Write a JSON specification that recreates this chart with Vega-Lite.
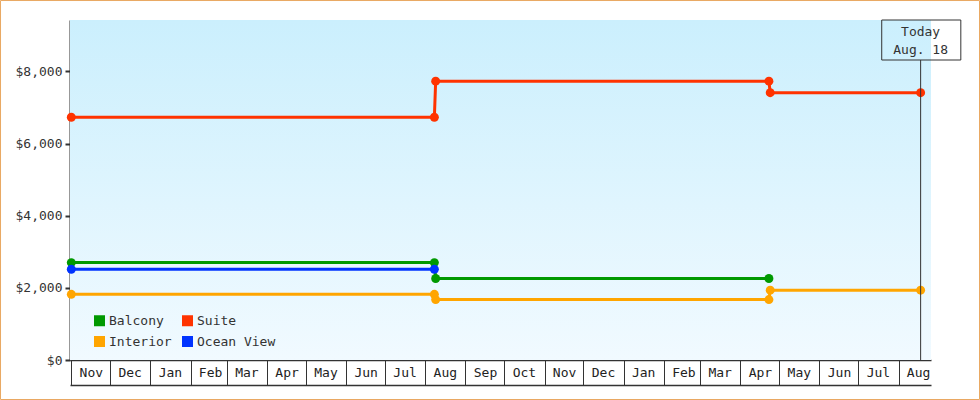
{
  "$schema": "https://vega.github.io/schema/vega-lite/v6.json",
  "width": 861,
  "height": 340,
  "autosize": {"type": "none"},
  "padding": {"left": 70, "top": 20, "right": 49, "bottom": 40},
  "background": "white",
  "datasets": {
    "prices": [
      {"series": "Suite", "date": "2012-11-01", "price": 6730},
      {"series": "Suite", "date": "2013-08-08", "price": 6730},
      {"series": "Suite", "date": "2013-08-09", "price": 7730},
      {"series": "Suite", "date": "2014-04-23", "price": 7730},
      {"series": "Suite", "date": "2014-04-24", "price": 7410},
      {"series": "Suite", "date": "2014-08-18", "price": 7410},
      {"series": "Balcony", "date": "2012-11-01", "price": 2700},
      {"series": "Balcony", "date": "2013-08-08", "price": 2700},
      {"series": "Balcony", "date": "2013-08-09", "price": 2260},
      {"series": "Balcony", "date": "2014-04-23", "price": 2260},
      {"series": "Ocean View", "date": "2012-11-01", "price": 2515},
      {"series": "Ocean View", "date": "2013-08-08", "price": 2515},
      {"series": "Interior", "date": "2012-11-01", "price": 1820},
      {"series": "Interior", "date": "2013-08-08", "price": 1820},
      {"series": "Interior", "date": "2013-08-09", "price": 1675},
      {"series": "Interior", "date": "2014-04-23", "price": 1675},
      {"series": "Interior", "date": "2014-04-24", "price": 1935},
      {"series": "Interior", "date": "2014-08-18", "price": 1935}
    ],
    "today": [{"date": "2014-08-18", "label": ["Today", "Aug. 18"]}]
  },
  "resolve": {"axis": {"x": "independent"}},
  "layer": [
    {
      "data": {"values": [{}]},
      "mark": {
        "type": "rect",
        "fill": {
          "gradient": "linear", "x1": 0, "y1": 0, "x2": 0, "y2": 1,
          "stops": [{"offset": 0, "color": "#cbeffd"}, {"offset": 1, "color": "#f1faff"}]
        }
      },
      "encoding": {
        "x": {
          "datum": {"year": 2012, "month": 10, "date": 31, "utc": true}, "type": "temporal",
          "scale": {"type": "utc", "domain": [{"year": 2012, "month": 10, "date": 31, "utc": true}, {"year": 2014, "month": 8, "date": 26, "utc": true}]},
          "axis": {"orient": "bottom", "offset": 25, "domain": true, "domainColor": "#333", "domainWidth": 1.5, "ticks": false, "labels": false, "grid": false, "title": null}
        },
        "x2": {"datum": {"year": 2014, "month": 8, "date": 26, "utc": true}},
        "y": {
          "datum": 0, "type": "quantitative", "scale": {"domain": [0, 9425]},
          "axis": {
            "values": [0, 2000, 4000, 6000, 8000], "format": "$,.0f",
            "domainColor": "#333", "domainWidth": 2, "tickColor": "#333", "tickWidth": 2, "tickSize": 5,
            "labelFont": "DejaVu Sans Mono", "labelFontSize": 13, "labelColor": "#333", "labelPadding": 3,
            "grid": false, "title": null
          }
        },
        "y2": {"datum": 9425}
      }
    },
    {
      "data": {"name": "prices"},
      "mark": {"type": "line", "strokeWidth": 3},
      "encoding": {
        "x": {
          "field": "date", "type": "temporal",
          "scale": {"type": "utc", "domain": [{"year": 2012, "month": 10, "date": 31, "utc": true}, {"year": 2014, "month": 8, "date": 26, "utc": true}]},
          "axis": {
            "orient": "bottom", "format": "%b", "tickCount": {"interval": "month", "step": 1},
            "domainColor": "#333", "domainWidth": 1.5, "tickColor": "#333", "tickWidth": 1, "tickSize": 25,
            "labelAlign": "center", "labelBaseline": "top", "labelOffset": 19.5, "labelPadding": -19,
            "labelFont": "DejaVu Sans Mono", "labelFontSize": 13, "labelColor": "#222",
            "labelOverlap": false, "labelFlush": false, "labelBound": false, "grid": false, "title": null
          }
        },
        "y": {
          "field": "price", "type": "quantitative", "scale": {"domain": [0, 9425]},
          "axis": {
            "values": [0, 2000, 4000, 6000, 8000], "format": "$,.0f",
            "domainColor": "#333", "domainWidth": 2, "tickColor": "#333", "tickWidth": 2, "tickSize": 5,
            "labelFont": "DejaVu Sans Mono", "labelFontSize": 13, "labelColor": "#333", "labelPadding": 3,
            "grid": false, "title": null
          }
        },
        "color": {
          "field": "series", "type": "nominal",
          "scale": {"domain": ["Balcony", "Suite", "Interior", "Ocean View"], "range": ["#009900", "#ff3300", "#ffa500", "#0033ff"]},
          "legend": {
            "orient": "none", "legendX": 23, "legendY": 294, "columns": 2, "direction": "horizontal", "padding": 0,
            "symbolType": "square", "symbolSize": 121, "symbolStrokeWidth": 0, "symbolOpacity": 1,
            "labelFont": "DejaVu Sans Mono", "labelFontSize": 13, "labelColor": "#333", "labelOffset": 3,
            "columnPadding": 9, "rowPadding": 7, "title": null
          }
        }
      }
    },
    {
      "data": {"name": "prices"},
      "mark": {"type": "point", "filled": true, "size": 80, "opacity": 1},
      "encoding": {
        "x": {
          "field": "date", "type": "temporal",
          "scale": {"type": "utc", "domain": [{"year": 2012, "month": 10, "date": 31, "utc": true}, {"year": 2014, "month": 8, "date": 26, "utc": true}]},
          "axis": null
        },
        "y": {
          "field": "price", "type": "quantitative", "scale": {"domain": [0, 9425]},
          "axis": {
            "values": [0, 2000, 4000, 6000, 8000], "format": "$,.0f",
            "domainColor": "#333", "domainWidth": 2, "tickColor": "#333", "tickWidth": 2, "tickSize": 5,
            "labelFont": "DejaVu Sans Mono", "labelFontSize": 13, "labelColor": "#333", "labelPadding": 3,
            "grid": false, "title": null
          }
        },
        "color": {
          "field": "series", "type": "nominal",
          "scale": {"domain": ["Balcony", "Suite", "Interior", "Ocean View"], "range": ["#009900", "#ff3300", "#ffa500", "#0033ff"]},
          "legend": {
            "orient": "none", "legendX": 23, "legendY": 294, "columns": 2, "direction": "horizontal", "padding": 0,
            "symbolType": "square", "symbolSize": 121, "symbolStrokeWidth": 0, "symbolOpacity": 1,
            "labelFont": "DejaVu Sans Mono", "labelFontSize": 13, "labelColor": "#333", "labelOffset": 3,
            "columnPadding": 9, "rowPadding": 7, "title": null
          }
        }
      }
    },
    {
      "data": {"name": "today"},
      "mark": {"type": "rule", "color": "#333", "strokeWidth": 1},
      "encoding": {
        "x": {
          "field": "date", "type": "temporal",
          "scale": {"type": "utc", "domain": [{"year": 2012, "month": 10, "date": 31, "utc": true}, {"year": 2014, "month": 8, "date": 26, "utc": true}]},
          "axis": null
        },
        "y": {
          "datum": 8316, "type": "quantitative", "scale": {"domain": [0, 9425]},
          "axis": {
            "values": [0, 2000, 4000, 6000, 8000], "format": "$,.0f",
            "domainColor": "#333", "domainWidth": 2, "tickColor": "#333", "tickWidth": 2, "tickSize": 5,
            "labelFont": "DejaVu Sans Mono", "labelFontSize": 13, "labelColor": "#333", "labelPadding": 3,
            "grid": false, "title": null
          }
        },
        "y2": {"datum": 0}
      }
    },
    {
      "data": {"name": "today"},
      "mark": {"type": "rect", "fill": null, "fillOpacity": 0, "stroke": "#333", "strokeWidth": 1},
      "encoding": {
        "x": {
          "datum": {"year": 2014, "month": 7, "date": 19, "utc": true}, "type": "temporal",
          "scale": {"type": "utc", "domain": [{"year": 2012, "month": 10, "date": 31, "utc": true}, {"year": 2014, "month": 8, "date": 26, "utc": true}]},
          "axis": null
        },
        "x2": {"datum": {"year": 2014, "month": 9, "date": 18, "utc": true}},
        "y": {
          "datum": 9425, "type": "quantitative", "scale": {"domain": [0, 9425]},
          "axis": {
            "values": [0, 2000, 4000, 6000, 8000], "format": "$,.0f",
            "domainColor": "#333", "domainWidth": 2, "tickColor": "#333", "tickWidth": 2, "tickSize": 5,
            "labelFont": "DejaVu Sans Mono", "labelFontSize": 13, "labelColor": "#333", "labelPadding": 3,
            "grid": false, "title": null
          }
        },
        "y2": {"datum": 8316}
      }
    },
    {
      "data": {"name": "today"},
      "mark": {"type": "text", "font": "DejaVu Sans Mono", "fontSize": 13, "color": "#333", "baseline": "middle", "align": "center", "lineHeight": 18},
      "encoding": {
        "x": {
          "field": "date", "type": "temporal",
          "scale": {"type": "utc", "domain": [{"year": 2012, "month": 10, "date": 31, "utc": true}, {"year": 2014, "month": 8, "date": 26, "utc": true}]},
          "axis": null
        },
        "y": {
          "datum": 9084, "type": "quantitative", "scale": {"domain": [0, 9425]},
          "axis": {
            "values": [0, 2000, 4000, 6000, 8000], "format": "$,.0f",
            "domainColor": "#333", "domainWidth": 2, "tickColor": "#333", "tickWidth": 2, "tickSize": 5,
            "labelFont": "DejaVu Sans Mono", "labelFontSize": 13, "labelColor": "#333", "labelPadding": 3,
            "grid": false, "title": null
          }
        },
        "text": {"field": "label"}
      }
    },
    {
      "data": {"values": [{}]},
      "mark": {"type": "rect", "fill": null, "fillOpacity": 0, "stroke": "#e9a862", "strokeWidth": 1},
      "encoding": {
        "x": {
          "datum": {"year": 2012, "month": 9, "date": 7, "hours": 10, "utc": true}, "type": "temporal",
          "scale": {"type": "utc", "domain": [{"year": 2012, "month": 10, "date": 31, "utc": true}, {"year": 2014, "month": 8, "date": 26, "utc": true}]},
          "axis": null
        },
        "x2": {"datum": {"year": 2014, "month": 10, "date": 2, "hours": 10, "utc": true}},
        "y": {
          "datum": 9965, "type": "quantitative", "scale": {"domain": [0, 9425]},
          "axis": {
            "values": [0, 2000, 4000, 6000, 8000], "format": "$,.0f",
            "domainColor": "#333", "domainWidth": 2, "tickColor": "#333", "tickWidth": 2, "tickSize": 5,
            "labelFont": "DejaVu Sans Mono", "labelFontSize": 13, "labelColor": "#333", "labelPadding": 3,
            "grid": false, "title": null
          }
        },
        "y2": {"datum": -1095}
      }
    }
  ],
  "config": {"view": {"stroke": null}}
}
